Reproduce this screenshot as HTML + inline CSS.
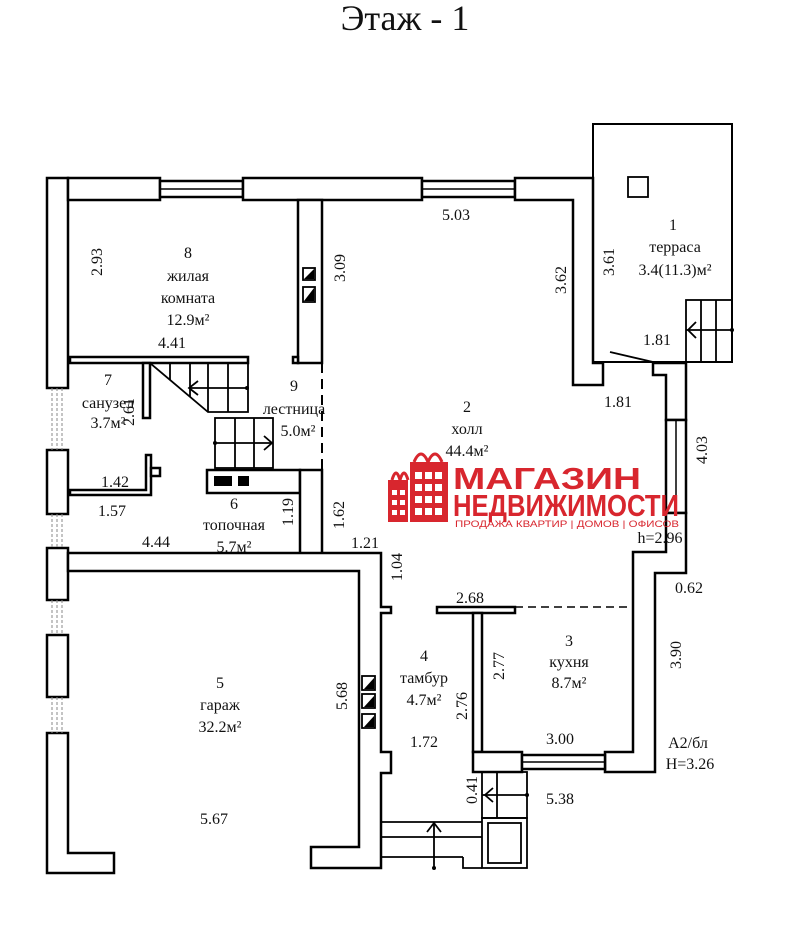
<!DOCTYPE html>
<html><head><meta charset="utf-8"><style>
html,body{margin:0;padding:0;background:#fff;}
svg{display:block;}
text{font-family:"Liberation Serif",serif;fill:#111;}
.w{fill:#fff;stroke:#000;stroke-width:2.5;}
.t{fill:none;stroke:#000;stroke-width:1.8;}
.lg{font-family:"Liberation Sans",sans-serif;font-weight:bold;fill:#d8262e;}
</style></head><body>
<svg width="797" height="938" viewBox="0 0 797 938" xmlns="http://www.w3.org/2000/svg">
<text x="405" y="30" font-size="36" text-anchor="middle">Этаж - 1</text>

<rect x="593" y="124" width="139" height="238" fill="#fff" stroke="#000" stroke-width="2"/>
<rect x="628" y="177" width="20" height="20" class="t"/>
<g class="t"><rect x="686" y="300" width="46" height="62"/><line x1="701" y1="300" x2="701" y2="362"/><line x1="716" y1="300" x2="716" y2="362"/><line x1="686" y1="330" x2="732" y2="330"/><polyline points="696,322 688,330 696,338"/></g>
<circle cx="732" cy="330" r="2"/>
<line x1="610" y1="352" x2="653" y2="362" stroke="#000" stroke-width="1.8"/>

<rect x="47" y="178" width="21" height="210" class="w"/>
<rect x="47" y="450" width="21" height="64" class="w"/>
<rect x="47" y="548" width="21" height="52" class="w"/>
<rect x="47" y="635" width="21" height="62" class="w"/>
<polygon points="47,733 68,733 68,853 114,853 114,873 47,873" class="w"/>
<g stroke="#888" stroke-width="1" stroke-dasharray="3,2"><line x1="52" y1="388" x2="52" y2="450"/><line x1="57" y1="388" x2="57" y2="450"/><line x1="62" y1="388" x2="62" y2="450"/><line x1="52" y1="514" x2="52" y2="548"/><line x1="57" y1="514" x2="57" y2="548"/><line x1="62" y1="514" x2="62" y2="548"/><line x1="52" y1="600" x2="52" y2="635"/><line x1="57" y1="600" x2="57" y2="635"/><line x1="62" y1="600" x2="62" y2="635"/><line x1="52" y1="697" x2="52" y2="733"/><line x1="57" y1="697" x2="57" y2="733"/><line x1="62" y1="697" x2="62" y2="733"/></g>

<rect x="68" y="178" width="92" height="22" class="w"/>
<rect x="160" y="181" width="83" height="16" class="w"/><line x1="160" y1="189" x2="243" y2="189" stroke="#000" stroke-width="1.5"/>
<rect x="243" y="178" width="179" height="22" class="w"/>
<rect x="422" y="181" width="93" height="16" class="w"/><line x1="422" y1="189" x2="515" y2="189" stroke="#000" stroke-width="1.5"/>
<polygon points="515,178 593,178 593,363 603,363 603,385 573,385 573,200 515,200" class="w"/>

<polygon points="653,363 686,363 686,420 666,420 666,375 653,375" class="w"/>
<rect x="666" y="420" width="20" height="93" class="w"/><line x1="676" y1="420" x2="676" y2="513" stroke="#000" stroke-width="1.5"/>
<polygon points="666,513 686,513 686,573 655,573 655,772 605,772 605,752 633,752 633,552 666,552" class="w"/>

<rect x="298" y="200" width="24" height="163" class="w"/>
<rect x="293" y="357" width="5" height="6" class="w"/>
<g><rect x="303" y="268" width="12" height="12" class="t"/><polygon points="304,279 314,269 314,279"/><rect x="303" y="287" width="12" height="15" class="t"/><polygon points="304,301 314,288 314,301"/></g>
<line x1="322" y1="363" x2="322" y2="470" stroke="#000" stroke-width="2" stroke-dasharray="10,6"/>

<rect x="70" y="357" width="178" height="6" class="w"/>
<rect x="143" y="363" width="7" height="55" class="w"/>
<g class="t"><polyline points="150,363 208,412 248,412 248,363"/><line x1="170" y1="363" x2="170" y2="380"/><line x1="190" y1="363" x2="190" y2="397"/><line x1="208" y1="363" x2="208" y2="412"/><line x1="228" y1="363" x2="228" y2="412"/><line x1="190" y1="388" x2="248" y2="388"/><polyline points="198,381 189,388 198,395"/></g>
<circle cx="247" cy="388" r="2"/>
<g class="t"><rect x="215" y="418" width="58" height="50"/><line x1="235" y1="418" x2="235" y2="468"/><line x1="254" y1="418" x2="254" y2="468"/><line x1="215" y1="443" x2="273" y2="443"/><polyline points="264,436 272,443 264,450"/></g>
<circle cx="215" cy="443" r="2"/>
<rect x="207" y="470" width="93" height="23" class="w"/>
<rect x="214" y="476" width="18" height="10"/><rect x="238" y="476" width="11" height="10"/>
<rect x="300" y="470" width="22" height="84" class="w"/>
<polygon points="146,455 151,455 151,495 70,495 70,490 146,490" class="w"/>
<rect x="151" y="468" width="9" height="8" class="w"/>

<polygon points="68,553 381,553 381,607 391,607 391,613 381,613 381,752 391,752 391,773 381,773 381,868 311,868 311,847 359,847 359,571 68,571" class="w"/>
<g><rect x="362" y="676" width="13" height="14" class="t"/><polygon points="364,689 374,678 374,689"/><rect x="362" y="694" width="13" height="14" class="t"/><polygon points="364,707 374,696 374,707"/><rect x="362" y="714" width="13" height="14" class="t"/><polygon points="364,727 374,716 374,727"/></g>

<rect x="437" y="607" width="78" height="6" class="w"/>
<rect x="473" y="613" width="9" height="139" class="w"/>
<line x1="515" y1="607" x2="633" y2="607" stroke="#000" stroke-width="1.5" stroke-dasharray="8,5"/>
<rect x="473" y="752" width="49" height="20" class="w"/>
<rect x="522" y="755" width="83" height="14" class="w"/><line x1="522" y1="762" x2="605" y2="762" stroke="#000" stroke-width="1.5"/>
<g class="t"><rect x="482" y="772" width="45" height="46"/><line x1="497" y1="772" x2="497" y2="818"/><line x1="482" y1="795" x2="527" y2="795"/><polyline points="493,788 485,795 493,802"/><rect x="482" y="818" width="45" height="50"/><rect x="488" y="823" width="33" height="40"/>
<polyline points="381,822 482,822"/><line x1="381" y1="837" x2="482" y2="837"/><line x1="381" y1="857" x2="463" y2="857"/><polyline points="463,857 463,868 482,868"/><line x1="434" y1="868" x2="434" y2="823"/><polyline points="427,832 434,823 441,832"/></g>
<circle cx="527" cy="795" r="2"/><circle cx="434" cy="868" r="2"/>

<g fill="#d8262e">
<rect x="388" y="480" width="20" height="42"/><rect x="410" y="462" width="38" height="60"/>
<path d="M392 480 q4 -14 8 0 M400 480 q4 -14 8 0" stroke="#d8262e" stroke-width="3" fill="none"/>
<path d="M414 462 q7 -16 14 0 M428 462 q7 -16 14 0" stroke="#d8262e" stroke-width="3" fill="none"/>
</g>
<g fill="#fff"><rect x="392" y="490" width="5" height="5"/><rect x="400" y="490" width="5" height="5"/><rect x="392" y="500" width="5" height="5"/><rect x="400" y="500" width="5" height="5"/><rect x="392" y="510" width="5" height="5"/><rect x="400" y="510" width="5" height="5"/>
<rect x="415" y="472" width="7" height="7"/><rect x="425" y="472" width="7" height="7"/><rect x="435" y="472" width="7" height="7"/><rect x="415" y="484" width="7" height="7"/><rect x="425" y="484" width="7" height="7"/><rect x="435" y="484" width="7" height="7"/><rect x="415" y="496" width="7" height="7"/><rect x="425" y="496" width="7" height="7"/><rect x="435" y="496" width="7" height="7"/><rect x="415" y="508" width="7" height="7"/><rect x="425" y="508" width="7" height="7"/><rect x="435" y="508" width="7" height="7"/></g>
<text x="453" y="489" font-size="31" class="lg" textLength="188" lengthAdjust="spacingAndGlyphs">МАГАЗИН</text>
<text x="453" y="516" font-size="31" class="lg" textLength="226" lengthAdjust="spacingAndGlyphs">НЕДВИЖИМОСТИ</text>
<text x="455" y="527" font-size="9" class="lg" textLength="224" lengthAdjust="spacingAndGlyphs" style="font-weight:normal">ПРОДАЖА КВАРТИР | ДОМОВ | ОФИСОВ</text>

<g font-size="16" text-anchor="middle">
<text x="188" y="258">8</text><text x="188" y="281">жилая</text><text x="188" y="303">комната</text><text x="188" y="325">12.9м²</text>
<text x="172" y="348">4.41</text>
<text x="108" y="385">7</text><text x="108" y="408">санузел</text><text x="108" y="428">3.7м²</text>
<text x="115" y="487">1.42</text><text x="112" y="516">1.57</text>
<text x="294" y="391">9</text><text x="294" y="414">лестница</text><text x="298" y="436">5.0м²</text>
<text x="234" y="509">6</text><text x="234" y="530">топочная</text><text x="234" y="552">5.7м²</text>
<text x="156" y="547">4.44</text><text x="365" y="548">1.21</text>
<text x="456" y="220">5.03</text>
<text x="467" y="412">2</text><text x="467" y="434">холл</text><text x="467" y="456">44.4м²</text>
<text x="673" y="230">1</text><text x="675" y="252">терраса</text><text x="675" y="275">3.4(11.3)м²</text>
<text x="657" y="345">1.81</text><text x="618" y="407">1.81</text>
<text x="660" y="543">h=2.96</text><text x="689" y="593">0.62</text>
<text x="470" y="603">2.68</text>
<text x="569" y="646">3</text><text x="569" y="667">кухня</text><text x="569" y="688">8.7м²</text>
<text x="424" y="661">4</text><text x="424" y="683">тамбур</text><text x="424" y="705">4.7м²</text>
<text x="424" y="747">1.72</text><text x="560" y="744">3.00</text>
<text x="560" y="804">5.38</text>
<text x="220" y="688">5</text><text x="220" y="710">гараж</text><text x="220" y="732">32.2м²</text>
<text x="214" y="824">5.67</text>
<text x="688" y="748">А2/бл</text><text x="690" y="769">Н=3.26</text>
</g>
<g font-size="16" text-anchor="middle">
<text transform="translate(102,262) rotate(-90)">2.93</text>
<text transform="translate(345,268) rotate(-90)">3.09</text>
<text transform="translate(566,280) rotate(-90)">3.62</text>
<text transform="translate(614,262) rotate(-90)">3.61</text>
<text transform="translate(707,450) rotate(-90)">4.03</text>
<text transform="translate(134,412) rotate(-90)">2.61</text>
<text transform="translate(293,512) rotate(-90)">1.19</text>
<text transform="translate(344,515) rotate(-90)">1.62</text>
<text transform="translate(402,567) rotate(-90)">1.04</text>
<text transform="translate(347,696) rotate(-90)">5.68</text>
<text transform="translate(467,706) rotate(-90)">2.76</text>
<text transform="translate(504,666) rotate(-90)">2.77</text>
<text transform="translate(681,655) rotate(-90)">3.90</text>
<text transform="translate(477,790) rotate(-90)">0.41</text>
</g>
</svg>
</body></html>
